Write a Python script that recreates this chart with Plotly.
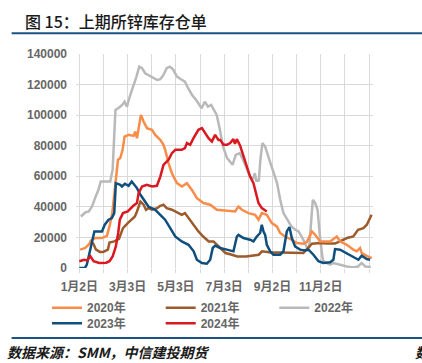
import plotly.graph_objects as go

# ---- data (x = days since 1月2日) ----
tick_labels = ["1月2日", "", "3月3日", "", "5月3日", "", "7月3日", "", "9月2日", "", "11月2日", "", ""]
tick_days = [0, 30.4, 60.8, 91.2, 121.6, 152, 182.4, 212.8, 243.2, 273.6, 304, 334.4, 364.8]
y_ticks = [0, 20000, 40000, 60000, 80000, 100000, 120000, 140000]

d2020 = [1, 7.5, 11.7, 16, 20, 28.6, 34.8, 38, 41.5, 44.4, 46.2, 48.7, 51.6, 54.5, 57, 62, 68.3, 70.4, 72.6, 75.5, 77.6, 80.9, 85.2, 91.5, 95.6, 101.9, 106, 108.2, 112.3, 116.6, 122.9, 129.2, 135.5, 141.8, 148.1, 156.4, 164.8, 173.2, 190, 196.2, 200.4, 204.7, 213, 221.4, 225.6, 229.8, 236.1, 242.4, 248.7, 252.9, 259.1, 267.6, 273.9, 282, 286.5, 292.8, 297, 303.2, 315.8, 322, 324.2, 328.3, 336.8, 345.1, 349.4, 353.5, 355.6, 361.9, 368.2]
v2020 = [12000, 13100, 15200, 18500, 19600, 19600, 21000, 27200, 35900, 51100, 62000, 70800, 71900, 77300, 86000, 87100, 86400, 89200, 84900, 94700, 100200, 95800, 91500, 90400, 87100, 83800, 80600, 77300, 68600, 62000, 55500, 53300, 55500, 51100, 45700, 42500, 41400, 38100, 37000, 37000, 40200, 38100, 35900, 34800, 31600, 35900, 34800, 29400, 27200, 22900, 20600, 18500, 16300, 15900, 17000, 23900, 21700, 17400, 17400, 19600, 20600, 17400, 15200, 12000, 10900, 13100, 9800, 8000, 6500]

d2021 = [14, 18, 21, 26, 30, 36, 38, 44, 50, 55, 61, 67, 70, 72.6, 77, 81, 84, 87, 91.5, 98, 102, 106, 110, 116.6, 125, 129, 133, 137.5, 144, 150, 156, 163, 169, 173, 180, 184, 190, 199, 210, 220, 226, 230, 241, 253, 266, 282, 293, 303, 312, 322, 328, 337, 345, 351, 357.7, 362, 368]
v2021 = [18500, 15500, 12000, 10500, 10500, 12000, 16700, 17400, 19000, 26100, 29400, 32700, 33700, 37000, 43500, 41400, 38100, 39200, 38100, 39200, 40700, 41400, 39200, 38100, 35900, 34800, 35900, 32700, 28300, 23900, 20600, 17400, 17400, 15200, 12000, 9800, 9000, 7600, 7600, 8000, 8700, 10900, 10200, 10200, 9800, 9800, 15900, 16300, 16000, 16000, 17400, 19600, 20600, 25000, 26100, 28300, 34800]

d2022 = [2, 5, 8, 12, 16, 20, 24, 27, 39, 42, 45.5, 49, 54, 57, 60, 64, 68, 72, 75.5, 79, 83, 87, 93, 98, 102, 106, 110, 114, 118, 123, 128, 133, 137, 142, 147, 151, 154, 158, 162, 166, 170, 173, 177, 181, 186, 190, 193, 197, 202, 206, 211, 215, 219, 221, 223, 225, 226, 228, 230.5, 234, 238, 244, 249, 253, 257, 262, 267, 272, 276, 280, 284, 287, 289.5, 291.5, 294, 297, 300, 303, 306.5, 309.5, 316, 320, 328, 337, 345, 351, 355.5, 360, 367]
v2022 = [33700, 34800, 36500, 37000, 40200, 46000, 51000, 56600, 56600, 64500, 103400, 104500, 106700, 108800, 105600, 113000, 118600, 125200, 131700, 130700, 127400, 126300, 124100, 123000, 123500, 126300, 130700, 131700, 130000, 125200, 123500, 121900, 117600, 113200, 110000, 107000, 104500, 108800, 105600, 106700, 103000, 100200, 90400, 79400, 72000, 69000, 67500, 74000, 75100, 71000, 65300, 59800, 58800, 62000, 56600, 58000, 56600, 70800, 81700, 79400, 72900, 64200, 55500, 44600, 35900, 31600, 27200, 25000, 23900, 20600, 16300, 13100, 13700, 29400, 44600, 42500, 38100, 20600, 5400, 3700, 2200, 3300, 2200, 1000, 400, 1000, 3300, 1000, 700]

d2023 = [0, 7, 9.5, 13.5, 16, 19, 28.6, 32, 36.9, 41, 44, 46, 51.6, 53.7, 57.5, 62, 66, 72.6, 77, 81, 87, 95.6, 102, 108, 114.5, 120.8, 129, 137.5, 144, 148, 154.4, 160.6, 164.8, 168, 171, 177.4, 185.8, 194.1, 198.4, 200.4, 206.7, 215.1, 219.3, 223.5, 227.7, 229.8, 231.9, 234, 236.1, 240.3, 244.4, 252.9, 257, 261.3, 264.6, 267.6, 271.7, 278, 284.3, 288.5, 294.8, 301.1, 307.3, 315.8, 319.9, 322, 328.3, 336.8, 345.1, 351.4, 355.6, 361.9, 366.1]
v2023 = [0, 0, 2200, 12000, 17400, 23900, 23900, 28300, 31600, 32700, 35900, 55500, 54400, 53300, 55100, 53800, 56600, 52300, 47900, 44600, 40200, 38100, 34800, 31600, 26100, 20600, 17400, 15200, 10900, 5400, 3300, 2800, 5400, 13100, 14600, 13100, 12000, 10900, 20600, 21700, 19600, 18500, 17400, 20600, 22900, 28300, 23900, 21700, 15200, 10900, 8700, 8700, 10900, 23900, 26800, 19600, 14100, 12000, 11500, 12000, 8700, 4400, 3300, 3700, 5400, 12400, 12000, 9800, 7200, 5400, 8000, 5900, 5400]

d2024 = [0, 6, 9.7, 14, 18, 25, 34, 38, 42, 46, 49, 51, 55, 61, 68, 72.6, 74.7, 79, 85, 91.5, 97.7, 102, 106, 112.3, 116.6, 121, 129, 133, 135.5, 139.6, 143.8, 150, 154.4, 158.5, 162.7, 166.9, 171, 175.2, 177.4, 181.5, 185.8, 190, 194, 196, 198.4, 202.5, 206.7, 211, 215, 219.3, 223.5, 225.6, 229.8, 236.1]
v2024 = [4400, 5400, 5000, 7600, 4400, 3300, 3500, 4400, 7600, 14100, 22900, 31600, 35900, 37000, 40700, 42500, 49000, 53300, 54400, 53300, 53800, 59800, 67500, 70800, 75100, 77300, 77300, 78400, 81700, 80600, 84900, 90400, 91500, 88200, 84900, 82700, 87100, 83800, 83800, 80600, 80600, 81700, 84300, 81200, 84300, 80000, 72900, 66400, 59800, 55500, 46800, 42500, 39200, 37000]

series_names = ["2020年", "2021年", "2022年", "2023年", "2024年"]
series_days = [d2020, d2021, d2022, d2023, d2024]
series_vals = [v2020, v2021, v2022, v2023, v2024]
series_colors = ["#FA8C4A", "#9C5B2B", "#B9B9B9", "#0E4F7E", "#DA1820"]

FONT = "Liberation Sans, Noto Sans CJK SC, sans-serif"
CJK = "Noto Sans CJK SC, sans-serif"
GRAY = "#666666"
FW, FH = 422, 363

# legend entry positions (item origin x, row centre y), in page pixels
legend_pos = [(47, 307.7), (160.7, 307.7), (274.3, 307.7), (47, 323.3), (160.7, 323.3)]
legend_ids = ["legend", "legend2", "legend3", "legend4", "legend5"]

fig = go.Figure()
order = [2, 1, 0, 3, 4]
for i in order:
    fig.add_trace(go.Scatter(x=series_days[i], y=series_vals[i], mode="lines", name=series_names[i],
                             line=dict(color=series_colors[i], width=2.5), legend=legend_ids[i]))

L, R, T, B = 76, 372.7, 54, 268.3
W, H = R - L, B - T
px = lambda X: (X - L) / W
py = lambda Y: (B - Y) / H

legends = {}
for lid, (lx, ly) in zip(legend_ids, legend_pos):
    legends[lid] = dict(orientation="h", xref="container", yref="container",
                        x=lx / FW, y=1 - ly / FH, xanchor="left", yanchor="middle",
                        itemwidth=30,
                        font=dict(family=FONT, size=12, color=GRAY, weight="bold"),
                        bgcolor="rgba(0,0,0,0)")

fig.update_layout(
    width=FW, height=FH,
    margin=dict(l=L, r=FW - R, t=T, b=FH - B, pad=0, autoexpand=False),
    paper_bgcolor="white", plot_bgcolor="white",
    font=dict(family=FONT, size=12, color=GRAY),
    showlegend=True,
    xaxis=dict(range=[-4.16, 369.8], tickmode="array", tickvals=tick_days, ticktext=tick_labels,
               showgrid=True, gridcolor="#D9D9D9", gridwidth=1, zeroline=False,
               showline=False, ticks="outside", ticklen=4, tickcolor="#D9D9D9",
               ticklabelstandoff=4,
               tickfont=dict(family=FONT, size=12, color=GRAY, weight="bold")),
    yaxis=dict(range=[0, 140000], tickmode="array", tickvals=y_ticks, tickformat="d",
               showgrid=True, gridcolor="#D9D9D9", gridwidth=1, zeroline=False,
               showline=False, ticks="", ticklabelstandoff=8,
               tickfont=dict(family=FONT, size=12, color=GRAY, weight="bold")),
    **legends,
)

fig.add_shape(type="line", xref="paper", yref="paper", x0=px(11.7), x1=px(422), y0=py(33.3), y1=py(33.3),
              line=dict(color="#1B5283", width=2))
fig.add_shape(type="line", xref="paper", yref="paper", x0=px(11.7), x1=px(422), y0=py(338.3), y1=py(338.3),
              line=dict(color="#1B5283", width=2))

fig.add_annotation(text="图 15：上期所锌库存仓单", xref="paper", yref="paper", x=px(22.7), y=py(20.5),
                   xanchor="left", yanchor="middle", showarrow=False,
                   font=dict(family=CJK, size=16, color="#1A1A1A", weight=500))
fig.add_annotation(text="数据来源：SMM，中信建投期货", xref="paper", yref="paper", x=px(5), y=py(352),
                   xanchor="left", yanchor="middle", showarrow=False,
                   font=dict(family=CJK, size=14, color="#1A1A1A", style="italic", weight="bold"))
fig.add_annotation(text="数", xref="paper", yref="paper", x=px(413), y=py(352),
                   xanchor="left", yanchor="middle", showarrow=False,
                   font=dict(family=CJK, size=14, color="#1A1A1A", style="italic", weight="bold"))

fig.write_html("out.html", config={"displayModeBar": False},
               post_script="document.body.style.margin='0';document.body.style.padding='0';")
